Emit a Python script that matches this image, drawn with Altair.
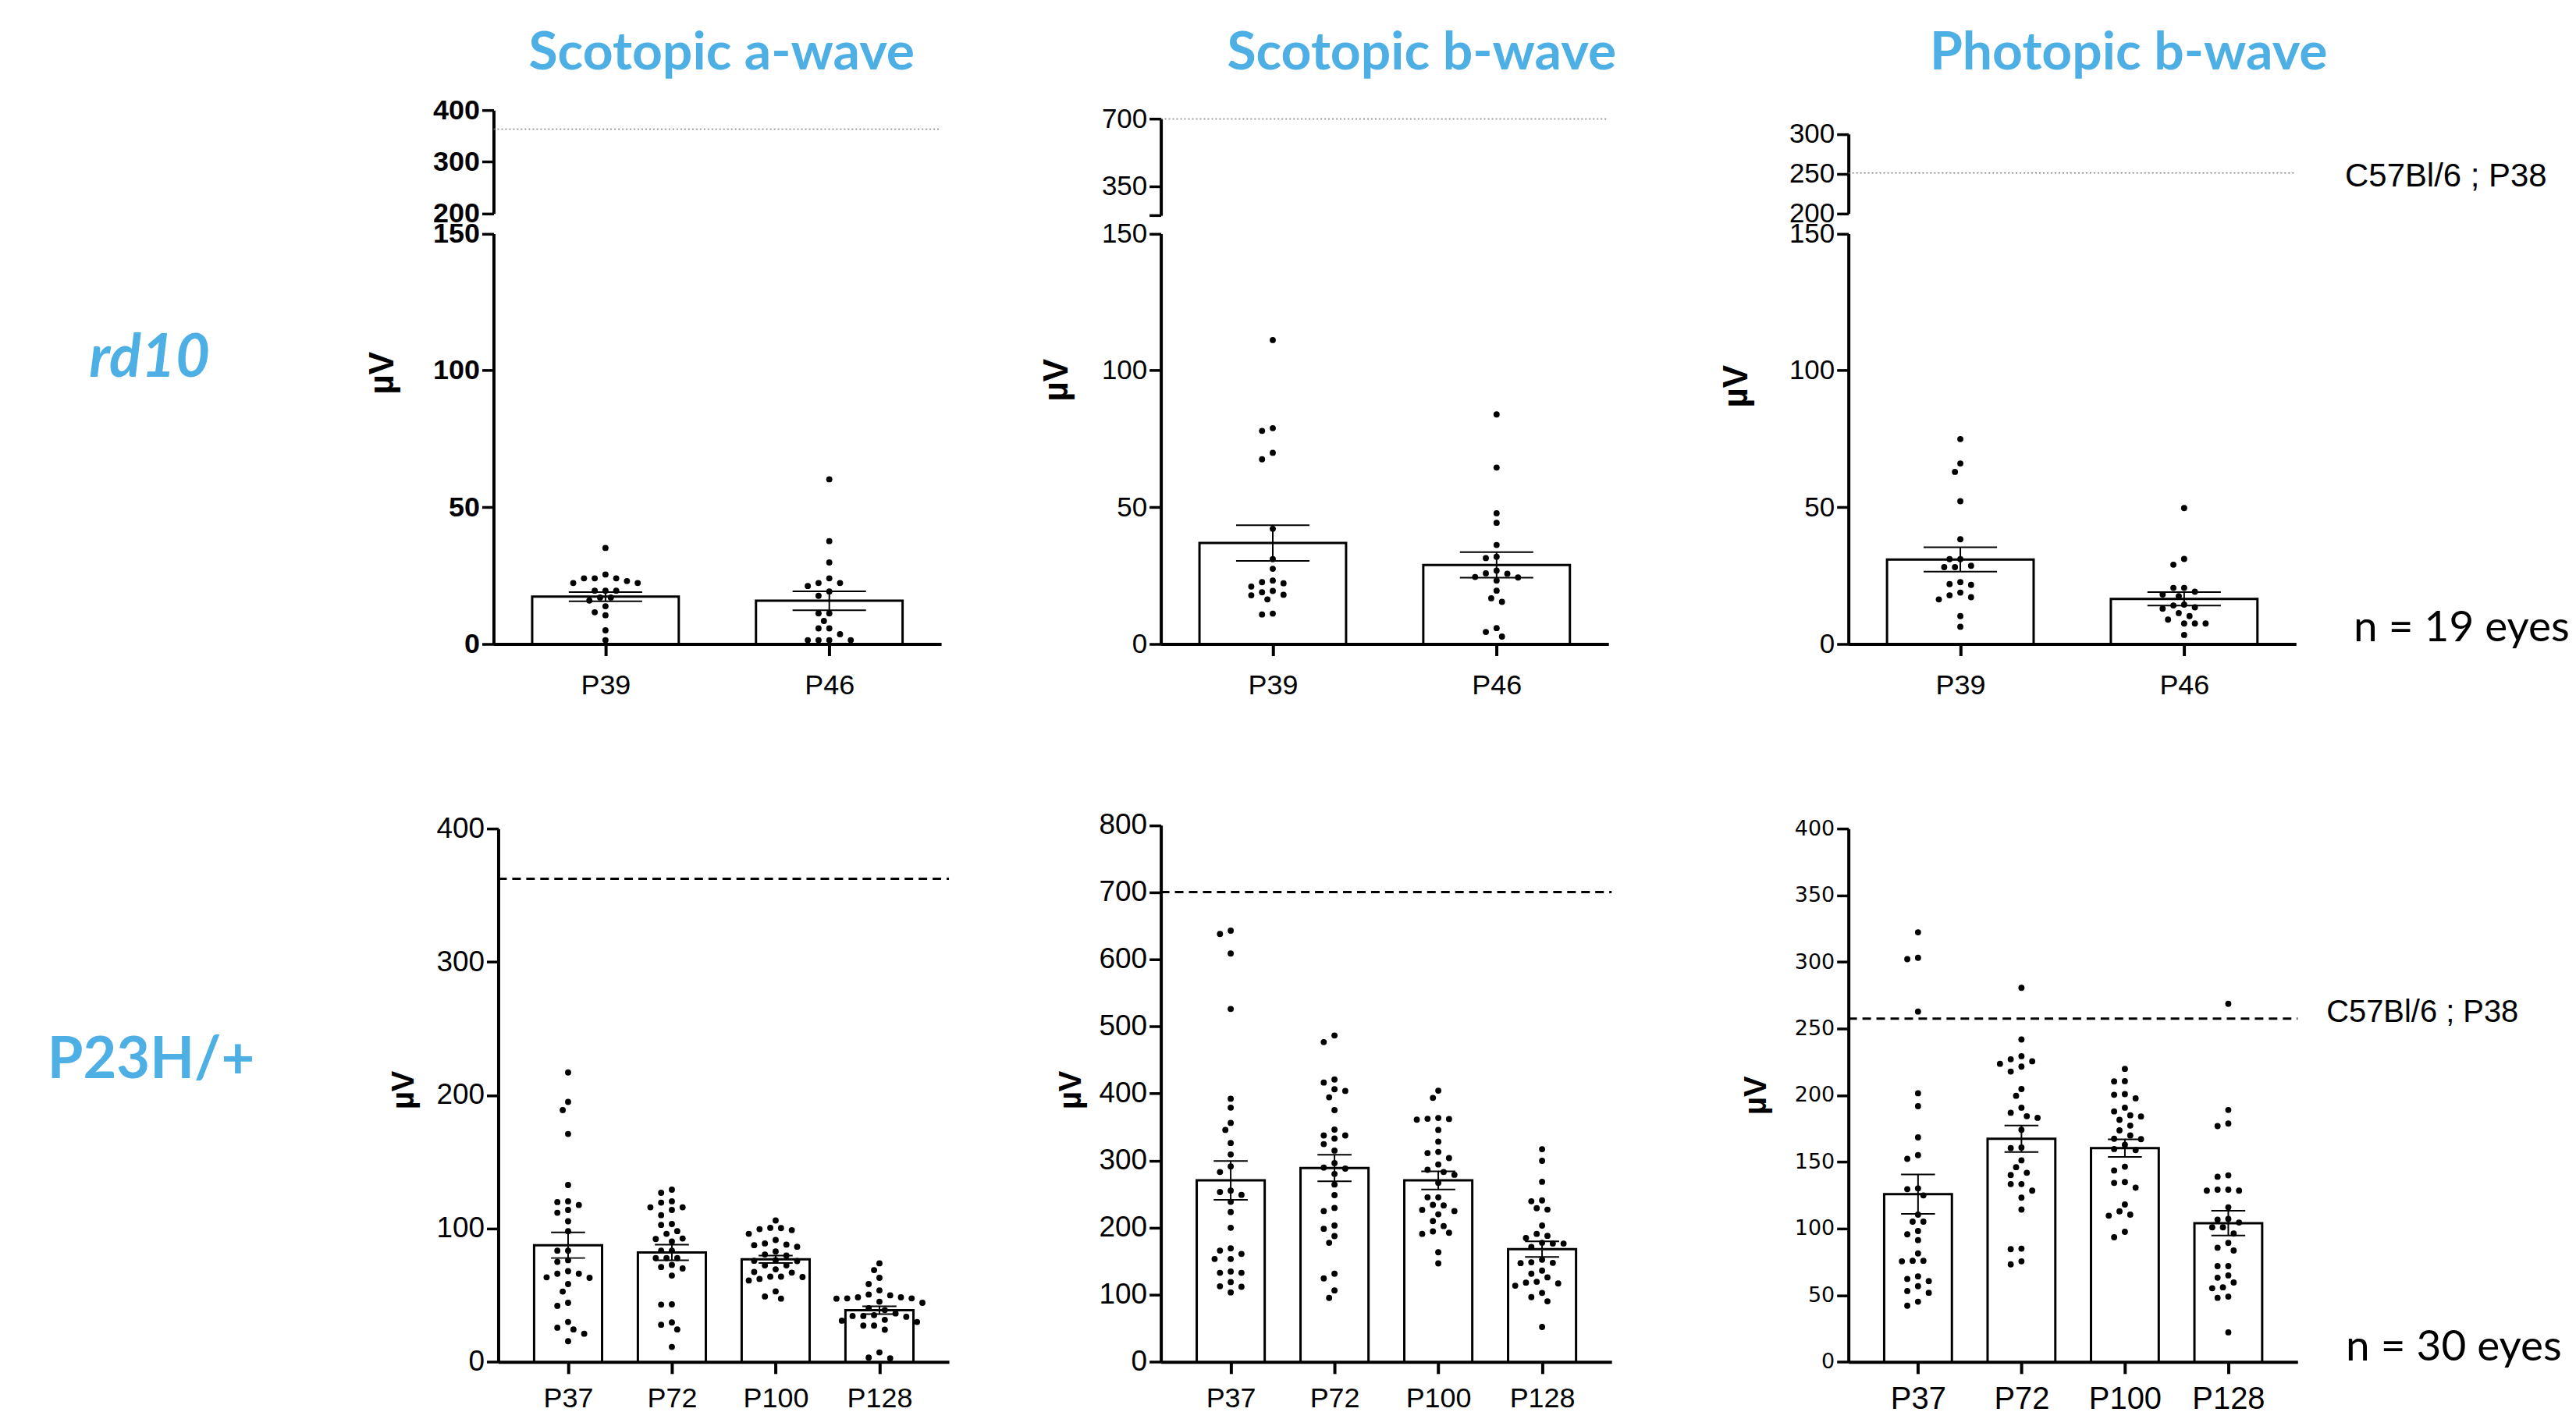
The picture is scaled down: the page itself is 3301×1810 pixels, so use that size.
import json
import altair as alt
import pandas as pd

BLUE = "#4DAFE3"
AXF = "Liberation Sans"
TF = "Lato"

# ---------------- text ----------------
col_titles = ["Scotopic a-wave", "Scotopic b-wave", "Photopic b-wave"]
row_labels = ["rd10", "P23H/+"]
ref_text = "C57Bl/6 ; P38"
n_texts = ["n = 19 eyes", "n = 30 eyes"]
y_title = "µV"

rd10_ages = ["P39", "P46"]
p23h_ages = ["P37", "P72", "P100", "P128"]

# ---------------- rd10 (n = 19 eyes) ----------------
rd10_sa_P39 = [35.1, 25.4, 24.0, 24.0, 24.0, 23.0, 22.3, 22.3, 19.5, 19.5, 19.5, 17.0, 17.0, 15.9, 13.8, 11.6, 10.5, 5.0, 1.4]
rd10_sa_P46 = [60.2, 37.6, 29.8, 24.0, 22.3, 22.3, 21.2, 19.2, 17.6, 11.2, 11.2, 8.4, 5.7, 5.7, 3.6, 1.4, 1.4, 1.4, 1.4]
rd10_sa_mean = [17.3, 15.8]
rd10_sa_sem = [1.7, 3.45]

rd10_sb_P39 = [111.1, 78.9, 77.9, 69.9, 67.5, 42.1, 31.0, 27.5, 23.2, 21.0, 22.2, 22.6, 19.4, 18.9, 17.8, 18.0, 16.3, 10.8, 11.1]
rd10_sb_P46 = [83.9, 64.5, 47.8, 44.3, 36.2, 31.4, 31.9, 25.7, 26.8, 25.8, 24.3, 23.2, 24.5, 19.5, 15.4, 16.7, 5.8, 4.4, 2.7]
rd10_sb_mean = [36.9, 28.9]
rd10_sb_sem = [6.55, 4.65]

rd10_pb_P39 = [74.9, 66.0, 62.9, 52.2, 38.3, 31.0, 31.0, 28.1, 28.1, 28.6, 22.6, 21.6, 21.9, 18.8, 17.1, 17.8, 16.3, 10.2, 6.3]
rd10_pb_P46 = [49.7, 31.1, 29.0, 20.5, 20.5, 19.1, 18.1, 17.5, 14.4, 14.1, 13.4, 12.9, 11.3, 10.2, 8.9, 7.5, 7.5, 7.5, 3.3]
rd10_pb_mean = [30.9, 16.5]
rd10_pb_sem = [4.45, 2.45]

# ---------------- P23H/+ (n = 30 eyes) ----------------
p23h_sa_P37 = [217.1, 195.0, 188.9, 171.0, 132.7, 119.9, 120.5, 117.7, 114.0, 111.9, 105.5, 98.1, 83.5, 83.5, 76.3,
               75.1, 68.1, 66.2, 66.2, 63.1, 63.5, 58.4, 52.8, 42.1, 44.4, 30.0, 25.7, 24.4, 21.2, 15.6]
p23h_sa_P72 = [129.2, 126.9, 120.5, 119.5, 116.0, 116.0, 114.0, 110.1, 102.8, 103.5, 98.1, 96.1, 92.6, 92.2, 90.3,
               83.5, 83.5, 77.9, 77.9, 77.9, 72.8, 71.2, 70.1, 64.8, 43.0, 43.2, 29.6, 27.9, 24.4, 11.3]
p23h_sa_P100 = [106.1, 100.6, 99.6, 100.4, 98.9, 96.1, 91.5, 88.9, 87.6, 88.0, 86.4, 82.9, 80.6, 79.8, 76.3,
                75.9, 75.7, 72.4, 72.4, 69.5, 67.5, 67.0, 64.0, 64.0, 63.7, 62.3, 61.1, 52.9, 49.1, 47.5]
p23h_sa_P128 = [74.0, 68.9, 63.1, 58.4, 53.7, 50.6, 48.5, 48.5, 50.0, 47.7, 47.7, 47.5, 45.2, 44.4, 40.3,
                38.9, 34.5, 34.5, 36.4, 33.9, 35.1, 31.0, 31.6, 30.0, 27.3, 27.3, 24.2, 7.2, 2.8, 3.3]
p23h_sa_mean = [87.6, 82.1, 77.0, 38.8]
p23h_sa_sem = [9.65, 5.8, 2.75, 2.9]

p23h_sb_P37 = [642.7, 637.7, 608.6, 526.0, 392.3, 379.0, 356.2, 345.8, 326.3, 309.2, 291.4, 283.1, 255.3, 253.2, 249.0,
               238.6, 223.3, 200.0, 169.3, 166.0, 161.0, 153.5, 153.5, 134.8, 132.8, 132.8, 119.1, 112.0, 112.8, 103.7]
p23h_sb_P72 = [486.5, 476.6, 420.9, 416.4, 406.4, 403.9, 394.4, 375.3, 346.2, 337.5, 337.5, 332.9, 324.6, 315.0, 296.4,
               289.7, 288.1, 280.2, 264.4, 248.6, 229.5, 224.9, 203.3, 198.4, 187.6, 177.6, 131.5, 124.5, 106.6, 95.4]
p23h_sb_P100 = [404.3, 393.5, 362.0, 363.6, 361.1, 362.4, 345.8, 328.3, 311.3, 313.0, 303.8, 294.3, 286.4, 283.1, 278.9,
                266.9, 245.3, 245.3, 233.2, 234.1, 226.6, 224.9, 220.0, 210.0, 202.5, 194.6, 190.9, 192.5, 163.5, 146.9]
p23h_sb_P128 = [317.1, 299.7, 268.5, 240.7, 239.5, 229.1, 227.0, 203.3, 190.9, 188.0, 184.7, 176.4, 176.4, 177.6, 171.4,
                152.3, 147.7, 147.3, 148.5, 136.1, 131.5, 126.1, 118.2, 119.5, 117.0, 113.7, 102.9, 96.6, 90.4, 52.2]
p23h_sb_mean = [270.6, 288.9, 270.6, 168.1]
p23h_sb_sem = [29.0, 19.75, 13.5, 11.65]

p23h_pb_P37 = [322.2, 302.1, 303.1, 262.8, 201.5, 191.8, 168.4, 152.3, 155.1, 129.6, 130.2, 124.9, 110.5, 105.2, 105.2,
               98.2, 95.7, 91.4, 81.4, 75.5, 75.9, 75.9, 64.2, 60.6, 62.3, 56.8, 53.2, 51.9, 45.2, 42.2]
p23h_pb_P72 = [280.6, 241.8, 229.3, 225.5, 227.0, 223.6, 221.5, 217.8, 204.7, 199.6, 190.7, 186.9, 184.3, 183.1, 174.1,
               160.4, 160.8, 151.2, 146.1, 141.9, 140.2, 133.4, 133.4, 128.5, 123.2, 114.3, 84.6, 85.0, 75.5, 73.2]
p23h_pb_P100 = [219.8, 210.4, 210.6, 200.4, 200.9, 197.7, 190.7, 187.9, 185.0, 184.1, 181.6, 177.3, 173.7, 169.9, 167.1,
                167.4, 162.9, 159.7, 158.9, 146.4, 143.6, 134.3, 134.9, 130.7, 118.1, 113.0, 110.5, 109.7, 97.6, 93.5]
p23h_pb_P128 = [268.6, 189.0, 178.8, 176.9, 140.0, 138.9, 129.2, 129.2, 128.5, 128.5, 116.0, 107.3, 106.7, 104.6, 101.0,
                101.0, 96.3, 89.3, 85.7, 83.6, 71.9, 71.9, 64.9, 63.2, 59.6, 56.0, 55.3, 49.0, 48.1, 22.2]
p23h_pb_mean = [125.8, 167.4, 160.4, 104.1]
p23h_pb_sem = [14.75, 10.0, 6.6, 9.3]

# C57Bl/6 P38 reference level (dotted / dashed lines)
ref_top = [363.3, 698.0, 251.0]
ref_bottom = [362.3, 700.3, 257.5]


# ---------------- helpers ----------------
def swarm_offsets(vals, ypx, xpx, step=6.9, dmin=11.0):
    """Deterministic beeswarm: horizontal offsets (x units) so dots don't overlap."""
    order = sorted(range(len(vals)), key=lambda i: -vals[i])
    cands = [0.0]
    for m in range(1, 15):
        cands += [-m * step, m * step]
    placed, offs = [], [0.0] * len(vals)
    for i in order:
        y = vals[i] * ypx
        for c in cands:
            if all((c - px) ** 2 + (y - py) ** 2 >= dmin * dmin for py, px in placed):
                break
        placed.append((y, c))
        offs[i] = c / xpx
    return offs


def txt(s, x, y, size, font, color="black", weight="normal", style="normal",
        align="center", baseline="alphabetic", angle=0):
    return alt.Chart(pd.DataFrame({"t": [s]})).mark_text(
        font=font, fontSize=size, fontWeight=weight, fontStyle=style, color=color,
        align=align, baseline=baseline, angle=angle
    ).encode(text="t:N", x=alt.value(x), y=alt.value(y))


def y_axis(ticks, size, weight="normal", font=AXF, offset=0, hide=None):
    kw = dict(values=ticks, orient="left", title=None, grid=False, domainColor="black", domainWidth=4,
              tickColor="black", tickWidth=3.5, tickSize=15, labelColor="black", labelFont=font,
              labelFontSize=size, labelFontWeight=weight, labelPadding=3, labelOverlap=False,
              labelFlush=False, offset=offset)
    if hide is not None:
        kw["labelExpr"] = f"datum.value == {hide} ? '' : datum.label"
    return alt.Axis(**kw)


def x_axis(ages, size, pad, font=AXF):
    return alt.Axis(values=list(range(len(ages))), labelExpr=f"{json.dumps(ages)}[datum.value]",
                    title=None, grid=False, domainColor="black", domainWidth=4, tickColor="black",
                    tickWidth=4, tickSize=15, labelColor="black", labelFont=font, labelFontSize=size,
                    labelPadding=pad, labelFlush=False, labelOverlap=False)


def data_layers(ages, groups, means, sems, ysc, yax, xsc, xax, ypx, xpx, hw=0.3275, cw=0.164):
    pts_rows, bar_rows = [], []
    for i, vals in enumerate(groups):
        offs = swarm_offsets(vals, ypx, xpx)
        for v, o in zip(vals, offs):
            pts_rows.append({"x": i + o, "v": v})
        bar_rows.append({"idx": i, "x1": i - hw, "x2": i + hw, "mean": means[i], "base": 0.0,
                         "lo": means[i] - sems[i], "hi": means[i] + sems[i],
                         "c1": i - cw, "c2": i + cw})
    pts = pd.DataFrame(pts_rows)
    bars = pd.DataFrame(bar_rows)

    def X(f):
        return alt.X(f"{f}:Q", scale=xsc, axis=xax)

    def Y(f):
        return alt.Y(f"{f}:Q", scale=ysc, axis=yax)

    bar = alt.Chart(bars).mark_bar(fill="white", stroke="black", strokeWidth=3).encode(
        x=X("x1"), x2="x2", y=Y("mean"), y2="base")
    vline = alt.Chart(bars).mark_rule(color="black", strokeWidth=2).encode(x=X("idx"), y=Y("lo"), y2="hi")
    cap_hi = alt.Chart(bars).mark_rule(color="black", strokeWidth=2).encode(x=X("c1"), x2="c2", y=Y("hi"))
    cap_lo = alt.Chart(bars).mark_rule(color="black", strokeWidth=2).encode(x=X("c1"), x2="c2", y=Y("lo"))
    dots = alt.Chart(pts).mark_circle(color="black", opacity=1, size=62).encode(x=X("x"), y=Y("v"))
    return [bar, vline, cap_hi, cap_lo, dots]


# ---------------- top row (rd10, broken y axis) ----------------
TOP_H = 686.0
TOP_XDOM = [-0.5, 1.5]
TOP_XR = [0, 575]
lower_top_range = [686.0, 158.7]

top_specs = [
    dict(groups=[rd10_sa_P39, rd10_sa_P46], means=rd10_sa_mean, sems=rd10_sa_sem,
         udom=[200, 400], urng=[132.8, 0], uticks=[200, 300, 400], hide=None,
         lsize=36, lweight="bold", width=622.8, title_x=293, mu=(-142, 338)),
    dict(groups=[rd10_sb_P39, rd10_sb_P46], means=rd10_sb_mean, sems=rd10_sb_sem,
         udom=[200, 700], urng=[135.3, 10.9], uticks=[200, 350, 700], hide=200,
         lsize=35, lweight="normal", width=647.8, title_x=335, mu=(-133, 347)),
    dict(groups=[rd10_pb_P39, rd10_pb_P46], means=rd10_pb_mean, sems=rd10_pb_sem,
         udom=[200, 300], urng=[132.8, 30.8], uticks=[200, 250, 300], hide=None,
         lsize=35, lweight="normal", width=574, title_x=360, mu=(-143, 355)),
]

cells = []
for c, sp in enumerate(top_specs):
    xsc = alt.Scale(domain=TOP_XDOM, range=TOP_XR, nice=False, zero=False)
    xax = x_axis(rd10_ages, 36, 21)
    ysc = alt.Scale(domain=[0, 150], range=lower_top_range, nice=False, zero=False)
    yax = y_axis([0, 50, 100, 150], sp["lsize"], sp["lweight"])
    lower = alt.layer(*data_layers(rd10_ages, sp["groups"], sp["means"], sp["sems"], ysc, yax, xsc, xax,
                                   ypx=(686.0 - 158.7) / 150.0, xpx=287.5))
    usc = alt.Scale(domain=sp["udom"], range=sp["urng"], nice=False, zero=False)
    uax = y_axis(sp["uticks"], sp["lsize"], sp["lweight"], hide=sp["hide"])
    upper = alt.Chart(pd.DataFrame({"ref": [ref_top[c]]})).mark_rule(
        color="#808080", strokeWidth=1.5, strokeDash=[2, 3]
    ).encode(y=alt.Y("ref:Q", scale=usc, axis=uax), x=alt.value(TOP_XR[0]), x2=alt.value(TOP_XR[1]))
    texts = [txt(col_titles[c], sp["title_x"], -52.5, 68, TF, color=BLUE, weight="bold"),
             txt(y_title, sp["mu"][0], sp["mu"][1], 44, AXF, weight="bold", baseline="middle", angle=270)]
    if c == 0:
        texts.append(txt(row_labels[0], -442, 343, 76, TF, color=BLUE, weight="bold", style="italic"))
    if c == 2:
        texts.append(txt(ref_text, 638, 98, 42, AXF, align="left"))
        texts.append(txt(n_texts[0], 649, 682, 55, TF, align="left"))
    cell = alt.layer(upper, lower, *texts).resolve_scale(y="independent").properties(
        width=sp["width"], height=TOP_H)
    cells.append(cell)

# ---------------- bottom row (P23H/+) ----------------
BOT_H = 691.4
BOT_XDOM = [-0.673, 3.67]
bot_specs = [
    dict(groups=[p23h_sa_P37, p23h_sa_P72, p23h_sa_P100, p23h_sa_P128], means=p23h_sa_mean, sems=p23h_sa_sem,
         ydom=[0, 400], yrng=[691.4, 6.0], ticks=[0, 100, 200, 300, 400], xr=[6, 585], offset=-6,
         lsize=37, lfont=AXF, xsize=36, xpad=15, width=625.4, ypx=685.4 / 400, mu=(-115, 342)),
    dict(groups=[p23h_sb_P37, p23h_sb_P72, p23h_sb_P100, p23h_sb_P128], means=p23h_sb_mean, sems=p23h_sb_sem,
         ydom=[0, 800], yrng=[691.4, 1.5], ticks=[0, 100, 200, 300, 400, 500, 600, 700, 800], xr=[0, 579],
         offset=0, lsize=37, lfont=AXF, xsize=36, xpad=15, width=651.2, ypx=689.9 / 800, mu=(-114.6, 342)),
    dict(groups=[p23h_pb_P37, p23h_pb_P72, p23h_pb_P100, p23h_pb_P128], means=p23h_pb_mean, sems=p23h_pb_sem,
         ydom=[0, 400], yrng=[691.4, 6.0], ticks=[0, 50, 100, 150, 200, 250, 300, 350, 400], xr=[0, 577],
         offset=0, lsize=27, lfont="DejaVu Sans", xsize=40, xpad=13, width=577, ypx=685.4 / 400,
         mu=(-118, 349)),
]
for c, sp in enumerate(bot_specs):
    xsc = alt.Scale(domain=BOT_XDOM, range=sp["xr"], nice=False, zero=False)
    xax = x_axis(p23h_ages, sp["xsize"], sp["xpad"])
    ysc = alt.Scale(domain=sp["ydom"], range=sp["yrng"], nice=False, zero=False)
    yax = y_axis(sp["ticks"], sp["lsize"], font=sp["lfont"], offset=sp["offset"])
    layers = data_layers(p23h_ages, sp["groups"], sp["means"], sp["sems"], ysc, yax, xsc, xax,
                         ypx=sp["ypx"], xpx=(sp["xr"][1] - sp["xr"][0]) / (BOT_XDOM[1] - BOT_XDOM[0]))
    ref = alt.Chart(pd.DataFrame({"ref": [ref_bottom[c]]})).mark_rule(
        color="black", strokeWidth=3, strokeDash=[11, 7]
    ).encode(y=alt.Y("ref:Q", scale=ysc, axis=yax), x=alt.value(sp["xr"][0]), x2=alt.value(sp["xr"][1]))
    texts = [txt(y_title, sp["mu"][0], sp["mu"][1], 40, AXF, weight="bold", baseline="middle", angle=270)]
    if c == 0:
        texts.append(txt(row_labels[1], -440, 327, 74, TF, color=BLUE, weight="bold"))
    if c == 2:
        texts.append(txt(ref_text, 614, 254, 40, AXF, align="left"))
        texts.append(txt(n_texts[1], 639, 690, 55, TF, align="left"))
    cell = alt.layer(ref, *layers, *texts).properties(width=sp["width"], height=BOT_H)
    cells.append(cell)

chart = alt.concat(
    *cells, columns=3, spacing=231.2, bounds="flush", align="none",
    padding={"left": 52, "top": 24.3, "right": 0, "bottom": 0}
).configure(background="white", view={"stroke": None})

chart.save("out.html", embed_options={"renderer": "svg", "actions": False})
